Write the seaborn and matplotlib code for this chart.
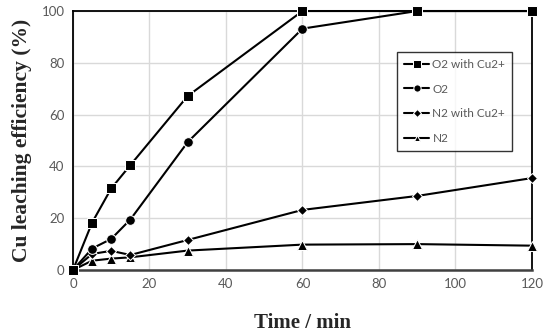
import pandas as pd
import matplotlib.pyplot as plt
import seaborn as sns

# Values
time_min = [0, 5, 10, 15, 30, 60, 90, 120]
o2_cu = [0, 18.3, 31.5, 40.5, 67.2, 100, 100, 100]
o2 = [0, 8.3, 12.0, 19.5, 49.4, 93.2, 100, 100]
n2_cu = [0, 6.2, 7.4, 5.8, 11.6, 23.2, 28.6, 35.5]
n2 = [0, 3.6, 4.4, 4.9, 7.5, 9.8, 10.0, 9.4]
series_names = ['O2 with Cu2+', 'O2', 'N2 with Cu2+', 'N2']

frames = []
for name, vals in zip(series_names, [o2_cu, o2, n2_cu, n2]):
    frames.append(pd.DataFrame({'Time': time_min, 'Eff': vals, 'Series': name}))
df = pd.concat(frames, ignore_index=True)

sns.set_style('white')
plt.rcParams['font.family'] = ['Lato', 'DejaVu Sans']

fig = plt.figure(figsize=(5.5, 3.34), dpi=100)
ax = fig.add_axes([0.1327, 0.1916, 0.8345, 0.7754])

markers = {'O2 with Cu2+': 's', 'O2': 'o', 'N2 with Cu2+': 'D', 'N2': '^'}
sizes = {'O2 with Cu2+': 7, 'O2': 7, 'N2 with Cu2+': 5.5, 'N2': 6.5}
# draw bottom series first so the squares sit on top
for i, name in enumerate(reversed(series_names)):
    sub = df[df['Series'] == name]
    sns.lineplot(data=sub, x='Time', y='Eff', ax=ax, color='black', marker=markers[name],
                 markersize=sizes[name], linewidth=1.5, label=name, clip_on=False, zorder=3 + i)

ax.set_xlim(0, 120)
ax.set_ylim(0, 100)
ax.set_xticks(range(0, 121, 20))
ax.set_yticks(range(0, 101, 20))
ax.grid(True, color='#d9d9d9', linewidth=1)
ax.tick_params(length=0, labelsize=9.5, labelcolor='#595959', pad=6)
for s in ax.spines.values():
    s.set_color('black')
    s.set_linewidth(1.3)
ax.spines['bottom'].set_color('#404040')
ax.spines['bottom'].set_linewidth(1.8)

ax.set_xlabel('Time / min', family='Liberation Serif', fontweight='bold', fontsize=15, labelpad=16)
ax.set_ylabel('Cu leaching efficiency (%)', family='Liberation Serif', fontweight='bold', fontsize=15.5, labelpad=7)

handles, labels = ax.get_legend_handles_labels()
order = [labels.index(n) for n in series_names]
leg = ax.legend([handles[k] for k in order], series_names, loc='upper left',
                bbox_to_anchor=(0.706, 0.842), fontsize=8.5, labelspacing=1.15, markerscale=0.75,
                handlelength=2.1, frameon=True, fancybox=False, borderpad=0.6, handletextpad=0.3,
                borderaxespad=0)
leg.get_frame().set_edgecolor('black')
leg.get_frame().set_linewidth(1)
for t in leg.get_texts():
    t.set_color('#595959')

fig.savefig('out.png', dpi=100)
